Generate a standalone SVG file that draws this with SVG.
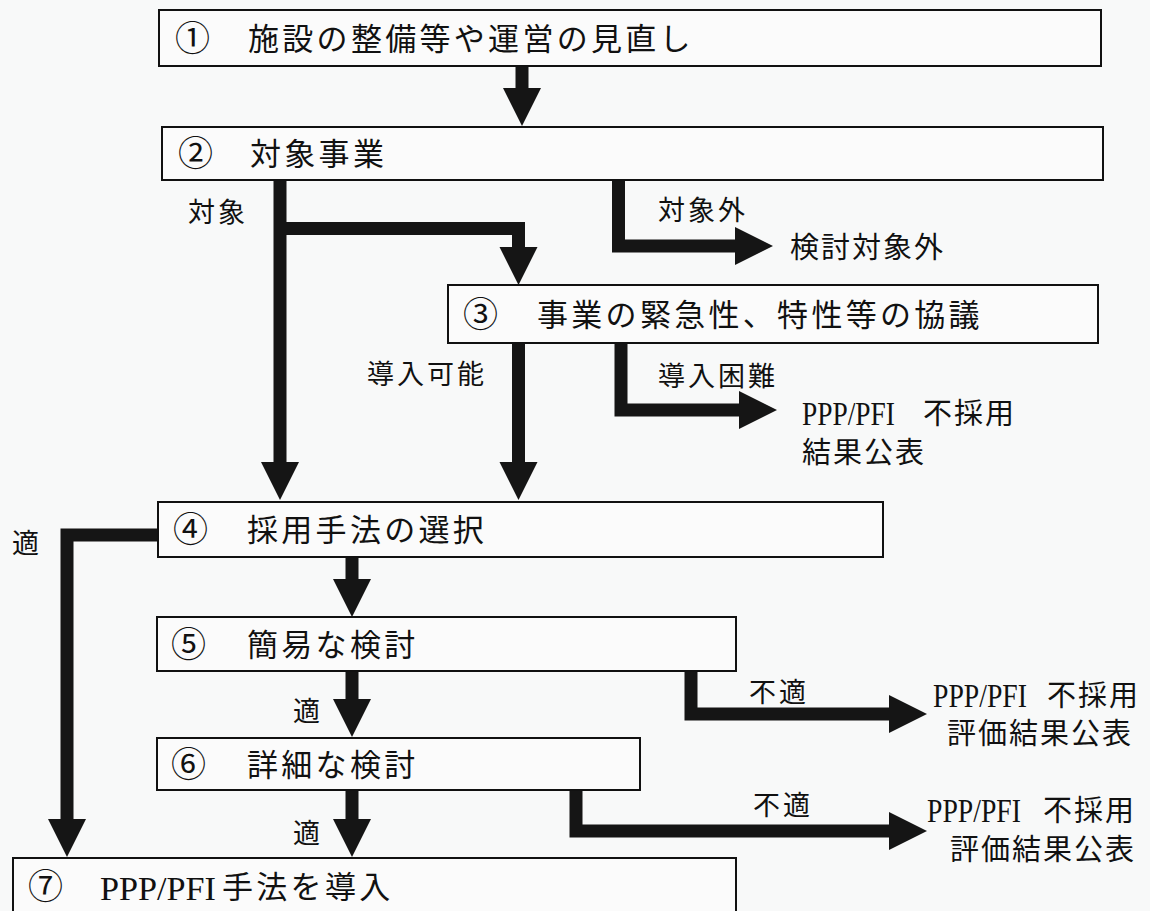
<svg xmlns="http://www.w3.org/2000/svg" width="1150" height="911" viewBox="0 0 1150 911">
<style>
.box{fill:#fbfbfb;stroke:#111;stroke-width:2}
.t{font-family:"Noto Sans CJK JP","Noto Sans CJK SC",sans-serif;font-size:31px;letter-spacing:3.3px;fill:#111}
.n{font-family:"Noto Sans CJK JP","Noto Sans CJK SC",sans-serif;font-size:35px;fill:#111}
.r{font-family:"Noto Sans CJK JP","Noto Sans CJK SC",sans-serif;font-size:29px;letter-spacing:2px;fill:#111}
.l{font-family:"Noto Sans CJK JP","Noto Sans CJK SC",sans-serif;font-size:27px;letter-spacing:3px;fill:#111}
.p{font-family:"Liberation Serif",serif;font-size:33px;fill:#111}
.c{fill:none;stroke:#151515;stroke-width:13;stroke-linejoin:miter;stroke-linecap:butt;marker-end:url(#ah)}
</style>
<defs>
<marker id="ah" markerUnits="userSpaceOnUse" markerWidth="40" markerHeight="40" refX="0" refY="19" orient="auto" overflow="visible">
<path d="M0,0 L38,19 L0,38 Z" fill="#151515"/>
</marker>
</defs>
<rect width="1150" height="911" fill="#f8f9f9"/>
<g id="connectors">
<path class="c" d="M522,66 V88"/>
<path class="c" d="M280,180 V462"/>
<path class="c" d="M280,228.5 H518.5 V247"/>
<path class="c" d="M618.5,180 V246 H735"/>
<path class="c" d="M518.5,343 V462"/>
<path class="c" d="M621,343 V410 H739"/>
<path class="c" d="M158,535 H67 V819"/>
<path class="c" d="M352,557 V579"/>
<path class="c" d="M352,671 V699"/>
<path class="c" d="M352,790 V819"/>
<path class="c" d="M691,671 V714 H889"/>
<path class="c" d="M576,790 V831 H889"/>
</g>
<g id="node1">
<rect class="box" x="159" y="10" width="942" height="56"/>
<text class="n" x="175" y="51">①</text>
<text class="t" x="248" y="50">施設の整備等や運営の見直し</text>
</g>
<g id="node2">
<rect class="box" x="162" y="127" width="941" height="53"/>
<text class="n" x="178" y="166">②</text>
<text class="t" x="250" y="165">対象事業</text>
</g>
<g id="node3">
<rect class="box" x="448" y="285" width="650" height="58"/>
<text class="n" x="463" y="327">③</text>
<text class="t" x="537" y="326">事業の緊急性、特性等の協議</text>
</g>
<g id="node4">
<rect class="box" x="158" y="502" width="725" height="55"/>
<text class="n" x="173" y="542">④</text>
<text class="t" x="247" y="541">採用手法の選択</text>
</g>
<g id="node5">
<rect class="box" x="157" y="617" width="579" height="54"/>
<text class="n" x="171" y="657">⑤</text>
<text class="t" x="247" y="656">簡易な検討</text>
</g>
<g id="node6">
<rect class="box" x="157" y="738" width="483" height="52"/>
<text class="n" x="171" y="777">⑥</text>
<text class="t" x="247" y="776">詳細な検討</text>
</g>
<g id="node7">
<rect class="box" x="13" y="858" width="723" height="80"/>
<text class="n" x="28" y="899">⑦</text>
<text class="p" x="100" y="900" textLength="116" lengthAdjust="spacingAndGlyphs">PPP/PFI</text>
<text class="t" x="222" y="898">手法を導入</text>
</g>
<g id="out1">
<text class="r" x="790" y="258">検討対象外</text>
</g>
<g id="out2">
<text class="p" x="802" y="425" textLength="93" lengthAdjust="spacingAndGlyphs">PPP/PFI</text>
<text class="r" x="923" y="424">不採用</text>
<text class="r" x="802" y="463">結果公表</text>
</g>
<g id="out3">
<text class="p" x="933" y="707" textLength="94" lengthAdjust="spacingAndGlyphs">PPP/PFI</text>
<text class="r" x="1047" y="706">不採用</text>
<text class="r" x="947" y="744">評価結果公表</text>
</g>
<g id="out4">
<text class="p" x="927" y="822" textLength="94" lengthAdjust="spacingAndGlyphs">PPP/PFI</text>
<text class="r" x="1043" y="821">不採用</text>
<text class="r" x="950" y="860">評価結果公表</text>
</g>
<g id="labels">
<text class="l" x="188" y="222">対象</text>
<text class="l" x="658" y="220">対象外</text>
<text class="l" x="367" y="384">導入可能</text>
<text class="l" x="658" y="386">導入困難</text>
<text class="l" x="12" y="553">適</text>
<text class="l" x="293" y="721">適</text>
<text class="l" x="293" y="843">適</text>
<text class="l" x="749" y="702">不適</text>
<text class="l" x="753" y="815">不適</text>
</g>
</svg>
